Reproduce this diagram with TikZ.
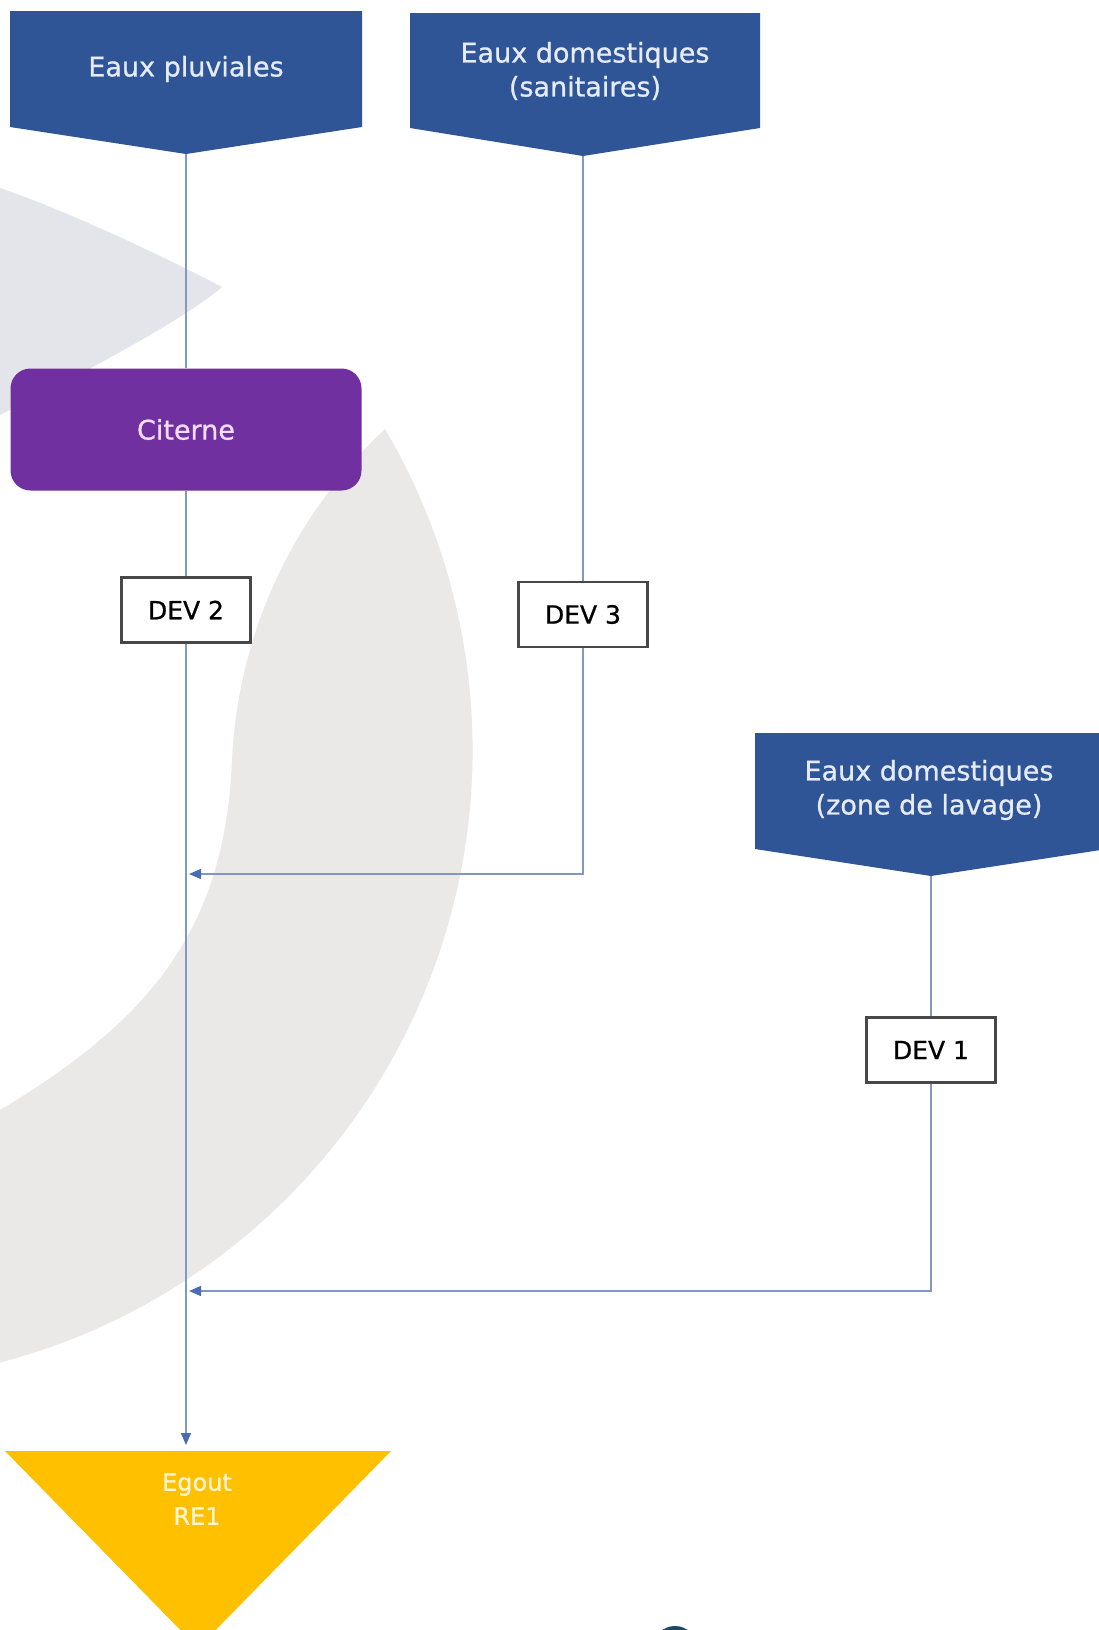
\documentclass[tikz,border=0pt]{standalone}
\usepackage{fontspec}
\setmainfont{DejaVu Sans}
\newfontfamily\boxfont{DejaVu Sans}[FakeBold=0.8]
\usetikzlibrary{arrows.meta}
\definecolor{srcblue}{HTML}{2F5597}
\definecolor{srctxt}{HTML}{E6ECF7}
\definecolor{citpurple}{HTML}{7030A0}
\definecolor{cittxt}{HTML}{F0DDF8}
\definecolor{egyellow}{HTML}{FFC000}
\definecolor{egtxt}{HTML}{FFF4D6}
\definecolor{pipeblue}{HTML}{8397C4}
\definecolor{tipblue}{HTML}{4A6CB3}
\definecolor{crescgray}{HTML}{EBE9E8}
\definecolor{wavegray}{HTML}{E4E5EB}
\definecolor{logoblue}{HTML}{1E4A66}

\tikzset{
	srcshape/.style={fill=srcblue},
	srctext/.style={text=srctxt, font=\boxfont\fontsize{27}{34}\selectfont, align=center},
	citbox/.style={fill=citpurple, rounded corners=20pt, minimum width=351pt, minimum height=122pt, text=cittxt, font=\boxfont\fontsize{27}{34}\selectfont},
	devbox/.style={draw=black!72, line width=2.2pt, fill=white, minimum width=129pt, minimum height=65pt, inner sep=0pt, font=\boxfont\fontsize{25}{30}\selectfont},
	pipe/.style={draw=pipeblue, line width=1.4pt},
	flow/.style={pipe, -{Triangle[length=12pt,width=10pt,color=tipblue]}},
}

\begin{document}
\begin{tikzpicture}[x=1pt,y=-1pt]
	\useasboundingbox (0,0) rectangle (1099,1630);
	\fill[white] (0,0) rectangle (1099,1630);
	\begin{scope}
		\clip (0,0) rectangle (1099,1630);
		% background shapes
		\fill[wavegray] (0,188) .. controls (70,212) and (160,255) .. (222,287)
			.. controls (190,315) and (100,365) .. (0,415) -- cycle;
		\fill[crescgray] (385,429) arc[start angle=-30.5, end angle=75.4, radius=633]
			-- (0,1110) .. controls (150,1020) and (225,930) .. (232,760)
			.. controls (240,600) and (320,490) .. (385,429) -- cycle;
		\fill[logoblue] (675,1648) circle[radius=22];
		% sources
		\fill[srcshape] (10,11) -- (362,11) -- (362,127) -- (186,154) -- (10,127) -- cycle;
		\fill[srcshape] (410,13) -- (760,13) -- (760,128) -- (583,156) -- (410,128) -- cycle;
		\fill[srcshape] (755,733) -- (1107,733) -- (1107,849) -- (931,876) -- (755,849) -- cycle;
		% outlet
		\fill[egyellow] (5,1451) -- (391,1451) -- (198,1648) -- cycle;
	\end{scope}

	\node[srctext] (pluv) at (186,69) {Eaux pluviales};
	\node[srctext] (sanit) at (585,71) {Eaux domestiques\\(sanitaires)};
	\node[srctext] (lav) at (929,790) {Eaux domestiques\\(zone de lavage)};
	\coordinate (pluvtip) at (186,154);
	\coordinate (sanittip) at (583,156);
	\coordinate (lavtip) at (931,876);

	\node[citbox] (cit) at (186,429.5) {Citerne};
	\node[devbox] (dev2) at (186,610) {DEV 2};
	\node[devbox] (dev3) at (583,614.5) {DEV 3};
	\node[devbox] (dev1) at (931,1050) {DEV 1};

	\node[text=egtxt, font=\boxfont\fontsize{24}{34}\selectfont, align=center] (egout) at (197,1499) {Egout\\RE1};
	\coordinate (egtop) at (186,1451);
	\coordinate (j3) at (186,874);
	\coordinate (j1) at (186,1291);

	% connectors
	\draw[pipe] (pluvtip) -- (cit);
	\draw[pipe] (cit) -- (dev2);
	\draw[flow, shorten >=6pt] (dev2) -- (egtop);
	\draw[pipe] (sanittip) -- (dev3);
	\draw[flow, shorten >=3pt] (dev3) |- (j3);
	\draw[pipe] (lavtip) -- (dev1);
	\draw[flow, shorten >=3pt] (dev1) |- (j1);
\end{tikzpicture}
\end{document}
